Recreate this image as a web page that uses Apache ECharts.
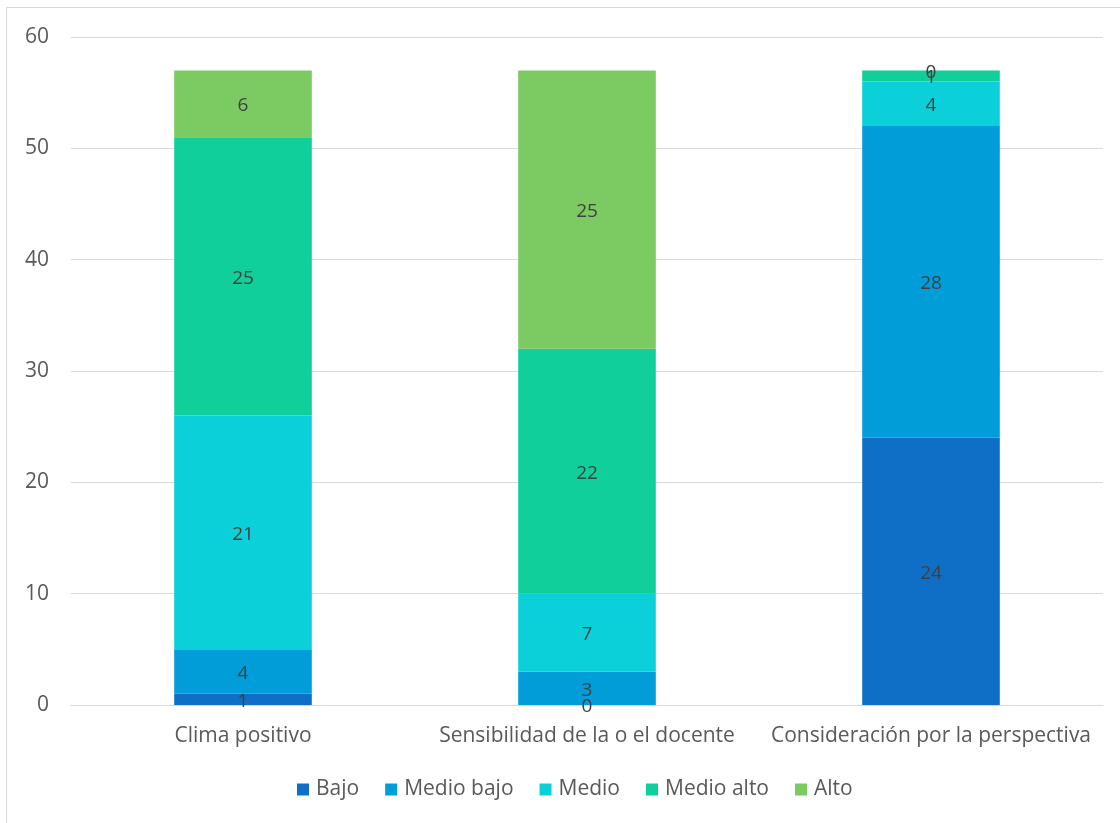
<!DOCTYPE html>
<html>
<head>
<meta charset="utf-8">
<script src="https://cdn.jsdelivr.net/npm/echarts@6/dist/echarts.min.js"></script>
<style>
html,body{margin:0;padding:0;background:#fff;}
#chart{width:1120px;height:823px;}
</style>
</head>
<body>
<div id="chart"></div>
<script>
const categories = ["Clima positivo", "Sensibilidad de la o el docente", "Consideración por la perspectiva"];
const seriesNames = ["Bajo", "Medio bajo", "Medio", "Medio alto", "Alto"];
const bajo = [1, 0, 24];
const medioBajo = [4, 3, 28];
const medio = [21, 7, 4];
const medioAlto = [25, 22, 1];
const alto = [6, 25, 0];
const colors = ["#0F6FC6", "#009DD9", "#0BD0D9", "#10CF9B", "#7CCA62"];
const values = [bajo, medioBajo, medio, medioAlto, alto];

const chart = echarts.init(document.getElementById('chart'), null, {renderer: 'canvas'});
const font = '"Open Sans", sans-serif';
chart.setOption({
  animation: false,
  textStyle: {fontFamily: font},
  graphic: [{
    type: 'rect',
    shape: {x: 6.5, y: 7.5, width: 1140, height: 840},
    style: {fill: 'none', stroke: '#d9d9d9', lineWidth: 1},
    silent: true
  }],
  grid: {left: 71, right: 17, top: 37, bottom: 118, containLabel: false},
  xAxis: {
    type: 'category',
    data: categories,
    axisLine: {lineStyle: {color: '#d9d9d9'}},
    axisTick: {show: false},
    axisLabel: {color: '#595959', fontSize: 21, fontFamily: font, margin: 21, interval: 0, hideOverlap: false}
  },
  yAxis: {
    type: 'value',
    min: 0, max: 60, interval: 10,
    axisLine: {show: false},
    axisTick: {show: false},
    splitLine: {lineStyle: {color: '#d9d9d9'}},
    axisLabel: {color: '#595959', fontSize: 21, fontFamily: font, margin: 22}
  },
  legend: {
    bottom: 18,
    left: 292,
    itemWidth: 12, itemHeight: 12, itemGap: 26,
    icon: 'rect',
    textStyle: {color: '#595959', fontSize: 21, fontFamily: font, padding: [0, 0, 0, 2]},
    data: seriesNames
  },
  series: seriesNames.map((n, i) => ({
    name: n,
    type: 'bar',
    stack: 'total',
    data: values[i],
    barWidth: '40%',
    itemStyle: {color: colors[i]},
    label: {show: true, position: 'inside', offset: [0, 2], color: '#404040', fontSize: 19, fontFamily: font}
  }))
});
</script>
</body>
</html>
